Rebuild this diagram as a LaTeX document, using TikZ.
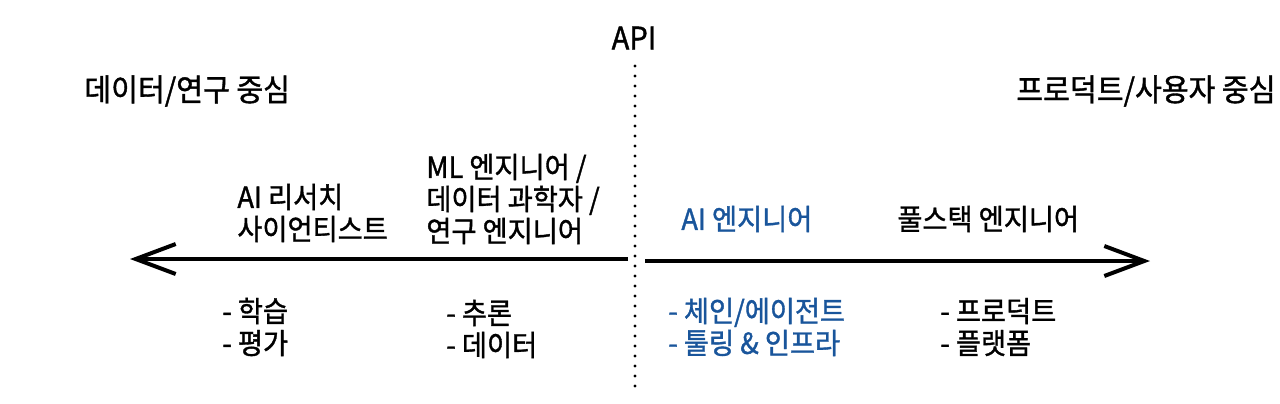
\documentclass[tikz,border=0pt]{standalone}
\usepackage{fontspec}
\setmainfont{Noto Sans CJK KR}[FakeBold=1.2, FakeStretch=0.94]
\usetikzlibrary{arrows.meta}
\definecolor{aiblue}{RGB}{25,85,155}
\tikzset{
    lbl/.style={anchor=west, align=left, inner sep=0pt, font=\fontsize{14.5pt}{16pt}\selectfont},
    side/.style={lbl, font=\fontsize{15.5pt}{17pt}\selectfont},
    axis/.style={line width=2pt, -{Straight Barb[length=20pt,width=15pt]}},
    dots/.style={line width=1.6pt, line cap=round, dash pattern=on 0pt off 5pt},
}
\begin{document}
\begin{tikzpicture}[x=0.5pt, y=-0.5pt]
    \useasboundingbox (0,0) rectangle (1280,403);

    \node[side, anchor=center] (api) at (634,38) {API};
    \coordinate (dotTop) at (635,66);
    \coordinate (dotBot) at (635,391);
    \draw[dots] (dotTop) -- (dotBot);

    \node[side] (dataside) at (84,91) {데이터/연구 중심};
    \node[side, anchor=east] (prodside) at (1276,91) {프로덕트/사용자 중심};

    \coordinate (ctrL) at (628,259);
    \coordinate (tipL) at (130,259);
    \coordinate (ctrR) at (645,261);
    \coordinate (tipR) at (1150,261);
    \draw[axis] (ctrL) -- (tipL);
    \draw[axis] (ctrR) -- (tipR);

    \node[lbl] (research) at (237,213) {AI 리서치\\사이언티스트};
    \node[lbl] (mleng) at (426,199) {ML 엔지니어 /\\데이터 과학자 /\\연구 엔지니어};
    \node[lbl, text=aiblue] (aieng) at (681,219) {AI 엔지니어};
    \node[lbl] (fullstack) at (897,219) {풀스택 엔지니어};

    \node[lbl] (researchtask) at (222,327) {- 학습\\- 평가};
    \node[lbl] (mltask) at (446,329) {- 추론\\- 데이터};
    \node[lbl, text=aiblue] (aitask) at (668,327) {- 체인/에이전트\\- 툴링 \& 인프라};
    \node[lbl] (fulltask) at (940,327) {- 프로덕트\\- 플랫폼};

\end{tikzpicture}
\end{document}
